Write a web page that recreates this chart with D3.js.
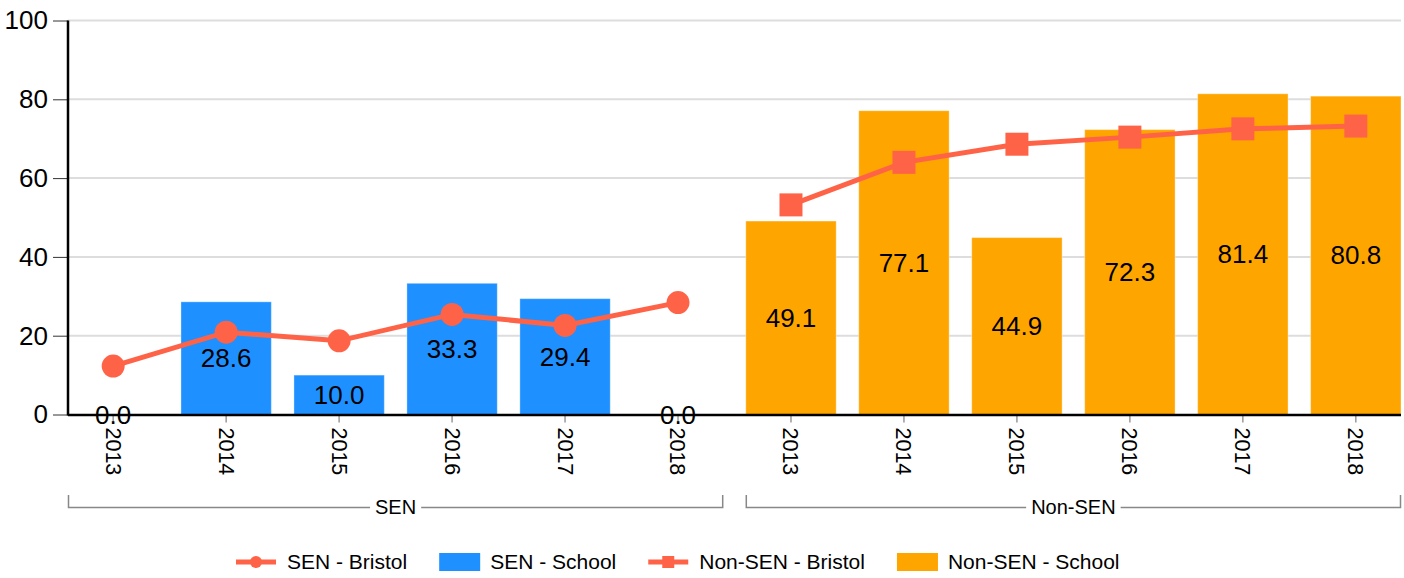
<!DOCTYPE html>
<html>
<head>
<meta charset="utf-8">
<script src="https://cdn.jsdelivr.net/npm/d3@7"></script>
<style>
  html, body { margin: 0; padding: 0; background: #fff; }
  svg { display: block; font-family: "Liberation Sans", Arial, sans-serif; }
</style>
</head>
<body>
<svg id="chart" width="1404" height="578"></svg>
<script>
const years = ["2013", "2014", "2015", "2016", "2017", "2018"];
const groups = ["SEN", "Non-SEN"];
const senSchool = [0.0, 28.6, 10.0, 33.3, 29.4, 0.0];
const nonSenSchool = [49.1, 77.1, 44.9, 72.3, 81.4, 80.8];
const senBristol = [12.3, 20.9, 18.7, 25.4, 22.6, 28.4];
const nonSenBristol = [53.2, 64.0, 68.6, 70.4, 72.5, 73.2];
const yTicks = [0, 20, 40, 60, 80, 100];
const legendLabels = ["SEN - Bristol", "SEN - School", "Non-SEN - Bristol", "Non-SEN - School"];

(function () {
const colors = { bristol: "tomato", senSchool: "#1e90ff", nonSenSchool: "orange" };

const cats = [];
groups.forEach(g => years.forEach(y => cats.push(g + "|" + y)));
const schoolVals = senSchool.concat(nonSenSchool);

const svg = d3.select("#chart");
const mLeft = 68, mRight = 1401, mTop = 20.5, mBottom = 414.5;

const x = d3.scaleBand().domain(cats).range([mLeft, mRight]).paddingInner(0.2).paddingOuter(0);
const y = d3.scaleLinear().domain([0, 100]).range([mBottom, mTop]);
const bw = x.bandwidth();
const cx = k => x(k) + bw / 2;

// gridlines
svg.append("g").selectAll("line").data(yTicks.filter(t => t > 0)).join("line")
  .attr("x1", mLeft).attr("x2", mRight)
  .attr("y1", d => y(d)).attr("y2", d => y(d))
  .attr("stroke", "#dddddd").attr("stroke-width", 2);

// y axis
const yAxis = svg.append("g").attr("transform", `translate(${mLeft},0)`)
  .call(d3.axisLeft(y).tickValues(yTicks).tickSize(15).tickPadding(5).tickFormat(d3.format("d")));
yAxis.select(".domain").remove();
yAxis.selectAll(".tick line").attr("stroke", "#333");
yAxis.selectAll(".tick text").attr("font-size", 26).attr("fill", "#000")
  .attr("font-family", "'Liberation Sans', Arial, sans-serif");
svg.append("line").attr("x1", mLeft).attr("x2", mLeft).attr("y1", mTop).attr("y2", mBottom + 1)
  .attr("stroke", "#000").attr("stroke-width", 2.5);

// bars
svg.append("g").selectAll("rect").data(cats).join("rect")
  .attr("x", d => x(d)).attr("width", bw)
  .attr("y", (d, i) => y(schoolVals[i]))
  .attr("height", (d, i) => mBottom - y(schoolVals[i]))
  .attr("fill", (d, i) => i < 6 ? colors.senSchool : colors.nonSenSchool)
  .attr("stroke", "#ffffff").attr("stroke-opacity", 0.35).attr("stroke-width", 1);

// x axis
const xAxis = svg.append("g").attr("transform", `translate(0,${mBottom})`)
  .call(d3.axisBottom(x).tickSize(8).tickPadding(13).tickFormat(d => d.split("|")[1]));
xAxis.select(".domain").remove();
xAxis.selectAll(".tick line").attr("stroke", "#999").attr("stroke-width", 1.5);
xAxis.selectAll(".tick text")
  .attr("font-size", 21.5).attr("fill", "#000")
  .attr("font-family", "'Liberation Sans', Arial, sans-serif")
  .attr("transform", "rotate(90)")
  .attr("text-anchor", "start")
  .attr("x", 13).attr("y", 0).attr("dy", "0.35em");
svg.append("line").attr("x1", mLeft).attr("x2", mRight).attr("y1", mBottom + 0.5).attr("y2", mBottom + 0.5)
  .attr("stroke", "#000").attr("stroke-width", 2.5);

// bar labels
svg.append("g").selectAll("text").data(cats).join("text")
  .attr("x", d => cx(d))
  .attr("y", (d, i) => (y(schoolVals[i]) + mBottom) / 2)
  .attr("dy", "0.35em")
  .attr("text-anchor", "middle")
  .attr("font-size", 26).attr("fill", "#000")
  .text((d, i) => schoolVals[i].toFixed(1));

// lines
const senKeys = years.map(yr => "SEN|" + yr);
const nonKeys = years.map(yr => "Non-SEN|" + yr);
const line = d3.line().x(d => cx(d.k)).y(d => y(d.v));
const senPts = senKeys.map((k, i) => ({ k, v: senBristol[i] }));
const nonPts = nonKeys.map((k, i) => ({ k, v: nonSenBristol[i] }));

svg.append("path").attr("d", line(senPts)).attr("fill", "none")
  .attr("stroke", colors.bristol).attr("stroke-width", 5);
svg.append("g").selectAll("circle").data(senPts).join("circle")
  .attr("cx", d => cx(d.k)).attr("cy", d => y(d.v)).attr("r", 11.5)
  .attr("fill", colors.bristol);

svg.append("path").attr("d", line(nonPts)).attr("fill", "none")
  .attr("stroke", colors.bristol).attr("stroke-width", 5);
svg.append("g").selectAll("rect").data(nonPts).join("rect")
  .attr("x", d => cx(d.k) - 11.5).attr("y", d => y(d.v) - 11.5)
  .attr("width", 23).attr("height", 23)
  .attr("fill", colors.bristol);

// group brackets
const bracketY = 507, bracketTop = 495;
groups.forEach((g) => {
  const keys = years.map(yr => g + "|" + yr);
  const x0 = x(keys[0]), x1 = x(keys[keys.length - 1]) + bw;
  const mid = (x0 + x1) / 2;
  const gEl = svg.append("g");
  const t = gEl.append("text").attr("x", mid).attr("y", bracketY).attr("dy", "0.35em")
    .attr("text-anchor", "middle").attr("font-size", 20).attr("fill", "#000").text(g);
  const tw = t.node().getComputedTextLength();
  const gap = 5;
  gEl.append("path")
    .attr("d", `M${x0 + 0.5},${bracketTop}V${bracketY + 0.5}H${mid - tw / 2 - gap}M${mid + tw / 2 + gap},${bracketY + 0.5}H${x1 - 0.5}V${bracketTop}`)
    .attr("fill", "none").attr("stroke", "#888").attr("stroke-width", 1.5);
});

// legend
const legend = svg.append("g");
const ly = 562;
let lx = 236;
legendLabels.forEach((lab, i) => {
  const g = legend.append("g");
  if (i === 0 || i === 2) {
    g.append("line").attr("x1", lx).attr("x2", lx + 40).attr("y1", ly).attr("y2", ly)
      .attr("stroke", colors.bristol).attr("stroke-width", 5);
    if (i === 0) {
      g.append("circle").attr("cx", lx + 20).attr("cy", ly).attr("r", 6).attr("fill", colors.bristol);
    } else {
      g.append("rect").attr("x", lx + 14).attr("y", ly - 6).attr("width", 12).attr("height", 12).attr("fill", colors.bristol);
    }
  } else {
    g.append("rect").attr("x", lx).attr("y", ly - 9).attr("width", 41).attr("height", 18)
      .attr("fill", i === 1 ? colors.senSchool : colors.nonSenSchool);
  }
  const t = g.append("text").attr("x", lx + 51).attr("y", ly).attr("dy", "0.35em")
    .attr("font-size", 21).attr("fill", "#000").text(lab);
  lx = lx + 51 + t.node().getComputedTextLength() + 32;
});
})();
</script>
</body>
</html>
